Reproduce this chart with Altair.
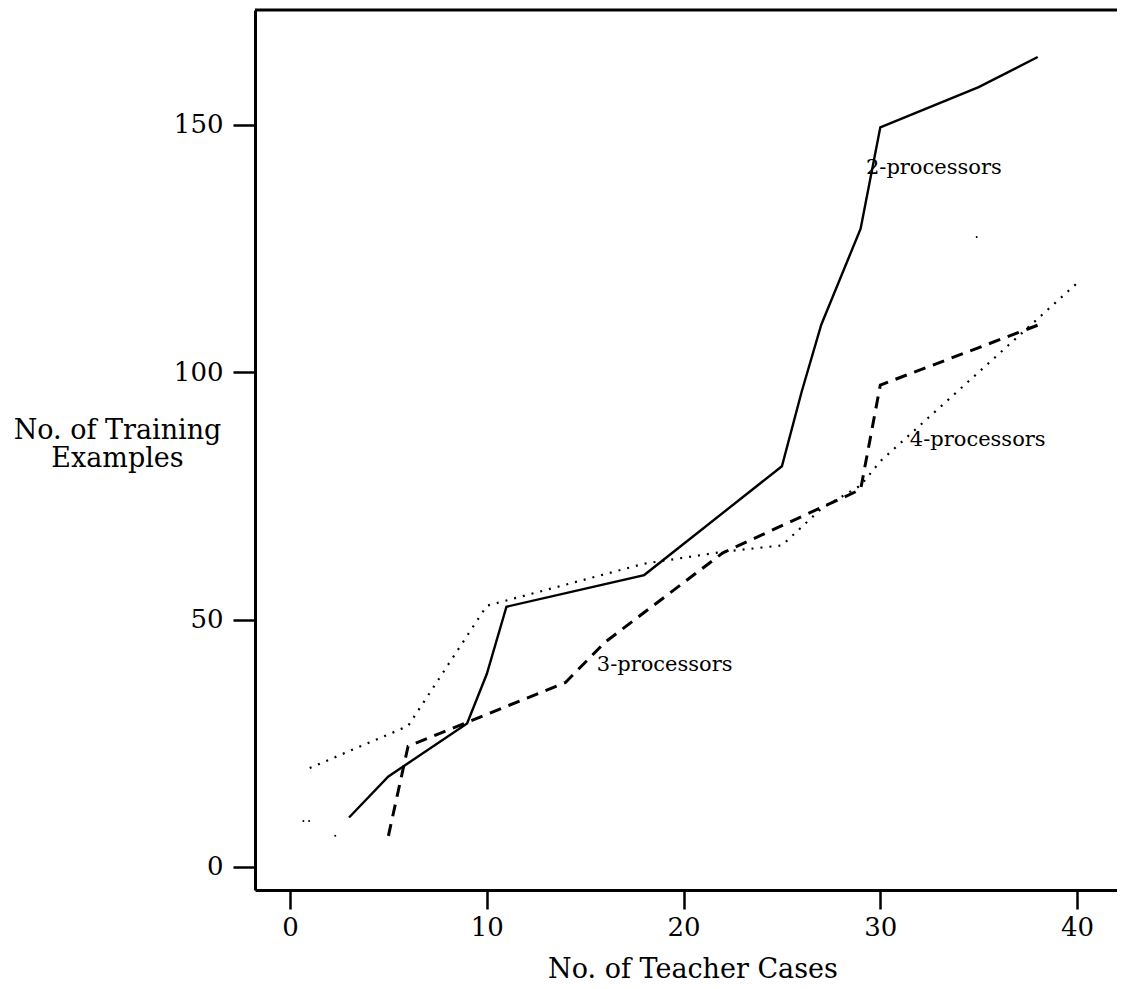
import altair as alt
import pandas as pd

# ---- data ----
x_2p = [3, 5, 9, 10, 11, 18, 25, 26, 27, 29, 30, 35, 38]
y_2p = [10, 18.3, 29, 39, 52.6, 59, 81, 96, 109.6, 129, 149.5, 157.6, 163.7]

x_3p = [5, 6, 14, 16, 22, 29, 30, 38]
y_3p = [6.3, 24.4, 37.3, 45.4, 63.5, 76.3, 97.4, 109.5]

x_4p = [1, 6, 10, 18, 22, 25, 27, 29, 30, 40]
y_4p = [20, 28.5, 52.8, 61.3, 63.7, 65, 72.4, 77.1, 82, 118]

# stray specks on the scanned figure
x_specks = [0.68, 0.97, 2.3, 34.9]
y_specks = [9.3, 9.3, 6.3, 127.3]

label_text = ["2-processors", "3-processors", "4-processors"]
label_x = [29.27, 15.59, 31.5]
label_y = [141.3, 40.8, 86.3]

x_ticks = [0, 10, 20, 30, 40]
y_ticks = [0, 50, 100, 150]
x_domain = [-1.78, 42.03]
y_domain = [-4.65, 173.2]

FONT = "DejaVu Serif"

df2 = pd.DataFrame({"x": x_2p, "y": y_2p})
df3 = pd.DataFrame({"x": x_3p, "y": y_3p})
df4 = pd.DataFrame({"x": x_4p, "y": y_4p})
dfs = pd.DataFrame({"x": x_specks, "y": y_specks})
dfl = pd.DataFrame({"t": label_text, "x": label_x, "y": label_y})

xs = alt.Scale(domain=x_domain, nice=False, zero=False)
ys = alt.Scale(domain=y_domain, nice=False, zero=False)

x_axis = alt.Axis(
    values=x_ticks, grid=False, tickSize=19, tickWidth=2.5, tickColor="black",
    domainColor="black", domainWidth=3, labelFont=FONT, labelFontSize=26,
    labelColor="black", labelPadding=5,
    title="No. of Teacher Cases", titleFont=FONT, titleFontSize=27,
    titleFontWeight="normal", titleColor="black", titleX=437.5, titleY=87,
    titleAlign="center", titleBaseline="alphabetic",
)
y_axis = alt.Axis(
    values=y_ticks, grid=False, tickSize=22, tickWidth=2.5, tickColor="black",
    domainColor="black", domainWidth=3, labelFont=FONT, labelFontSize=26,
    labelColor="black", labelPadding=10,
    title=["No. of Training", "Examples"], titleFont=FONT, titleFontSize=27,
    titleFontWeight="normal", titleColor="black", titleAngle=0,
    titleAlign="center", titleBaseline="alphabetic", titleX=-138, titleY=428,
    titleLineHeight=28,
)

solid = alt.Chart(df2).mark_line(color="black", strokeWidth=2.4).encode(
    x=alt.X("x:Q", scale=xs, axis=x_axis),
    y=alt.Y("y:Q", scale=ys, axis=y_axis),
    order="x:Q",
)
dashed = alt.Chart(df3).mark_line(color="black", strokeWidth=3, strokeDash=[12, 8]).encode(
    x=alt.X("x:Q", scale=xs), y=alt.Y("y:Q", scale=ys), order="x:Q"
)
dotted = alt.Chart(df4).mark_line(color="black", strokeWidth=2.2, strokeDash=[2, 7]).encode(
    x=alt.X("x:Q", scale=xs), y=alt.Y("y:Q", scale=ys), order="x:Q"
)
specks = alt.Chart(dfs).mark_circle(color="black", size=4, opacity=1).encode(
    x=alt.X("x:Q", scale=xs), y=alt.Y("y:Q", scale=ys)
)
labels = alt.Chart(dfl).mark_text(
    font=FONT, fontSize=21, align="left", baseline="middle", color="black"
).encode(x=alt.X("x:Q", scale=xs), y=alt.Y("y:Q", scale=ys), text="t:N")

top_border = alt.Chart(pd.DataFrame({"a": [0]})).mark_rule(color="black", strokeWidth=3).encode(
    x=alt.datum(x_domain[0], scale=xs),
    x2=alt.datum(x_domain[1]),
    y=alt.datum(y_domain[1], scale=ys),
)

chart = alt.layer(top_border, dotted, dashed, solid, specks, labels).properties(
    width=862,
    height=880,
    padding={"left": 247, "top": 2, "right": 0, "bottom": 95},
    autosize=alt.AutoSizeParams(type="none"),
    background="white",
).configure_view(stroke=None)

chart.save("out.html", embed_options={"renderer": "svg", "actions": False})
